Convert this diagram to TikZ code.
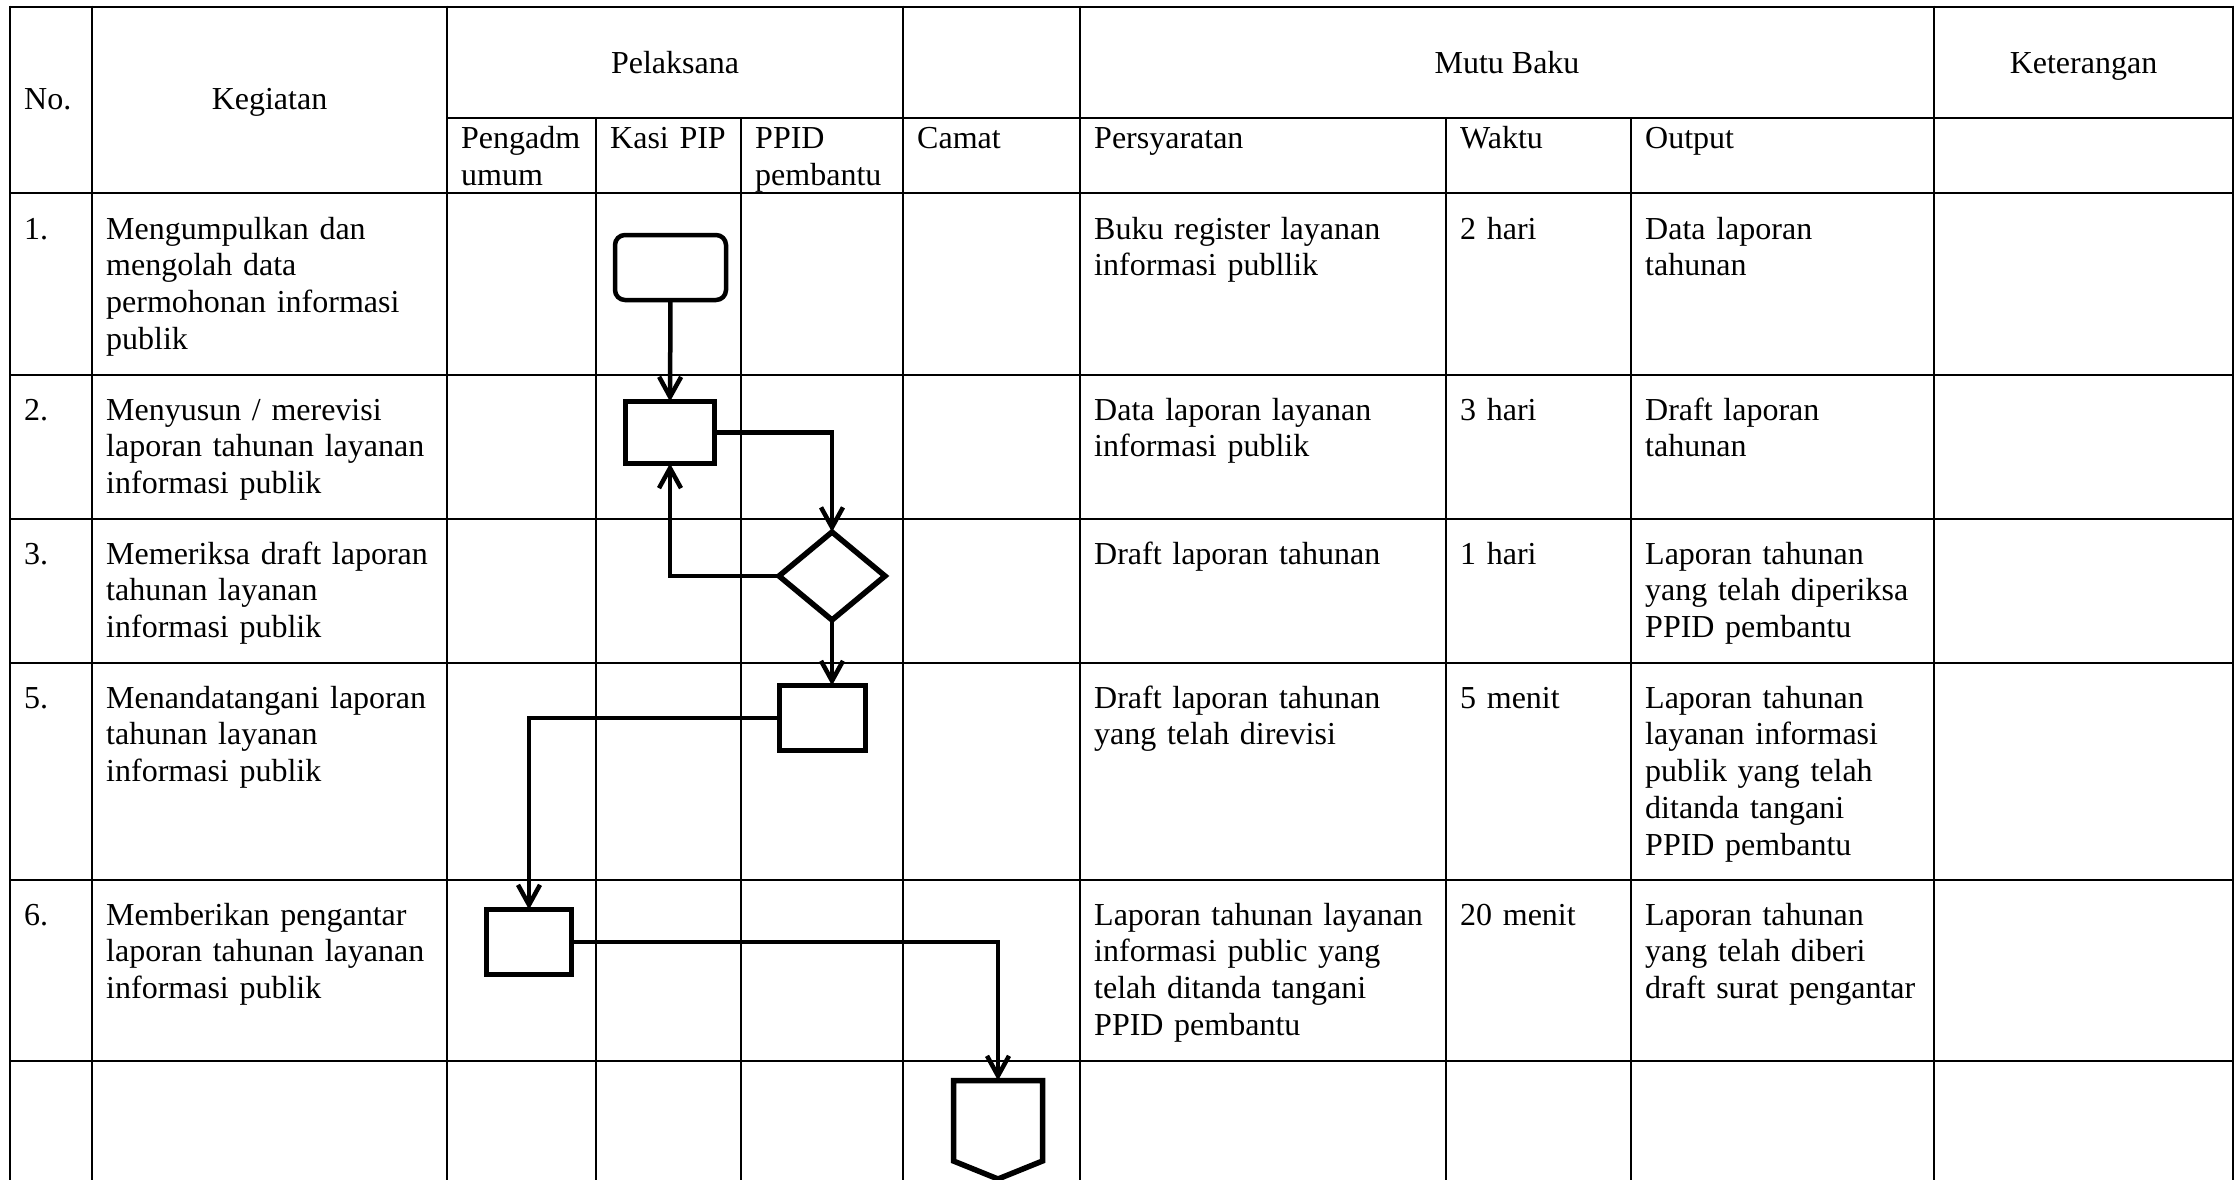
\documentclass[tikz,border=0pt]{standalone}
\usepackage{fontspec}
\setmainfont{Liberation Serif}
\usetikzlibrary{arrows.meta,shapes.geometric}
\newcommand\cellfont{\fontsize{32}{36.8}\selectfont}
\begin{document}
\begin{tikzpicture}[x=1pt,y=-1pt,
  rule/.style={line width=2.5pt},
  cell/.style={anchor=base west, inner sep=0pt, text width=420pt, align=left, font=\cellfont},
  head/.style={anchor=base, inner sep=0pt, font=\cellfont},
  proc/.style={draw, rectangle, line width=5.5pt, fill=white, inner sep=0pt, outer sep=0pt},
  flow/.style={line width=4.5pt, -{Straight Barb[length=20pt,width=22pt]}}]
\useasboundingbox (0,0) rectangle (2238,1180);
\clip (0,0) rectangle (2238,1180);
\fill[white] (0,0) rectangle (2238,1180);

% table rules
\draw[rule] (10,7) -- (2233,7);
\draw[rule] (447,118) -- (2233,118);
\foreach \y in {193,375,519,663,880,1061}
  \draw[rule] (10,\y) -- (2233,\y);
\foreach \x in {10,92,447,903,1080,1934,2233}
  \draw[rule] (\x,5.75) -- (\x,1200);
\foreach \x in {596,741,1446,1631}
  \draw[rule] (\x,118) -- (\x,1200);

% header
\node[cell] (hno) at (24,110) {No.};
\node[head] (hkeg) at (269.5,110) {Kegiatan};
\node[head] (hpel) at (675,74) {Pelaksana};
\node[head] (hmutu) at (1507,74) {Mutu Baku};
\node[head] (hket) at (2083.5,74) {Keterangan};
\node[cell] (hpu) at (461,148.5) {Pengadm\\umum};
\node[cell] (hkasi) at (610,148.5) {Kasi PIP};
\node[cell] (hppid) at (755,148.5) {PPID\\pembantu};
\node[cell] (hcamat) at (917,148.5) {Camat};
\node[cell] (hsyar) at (1094,148.5) {Persyaratan};
\node[cell] (hwaktu) at (1460,148.5) {Waktu};
\node[cell] (hout) at (1645,148.5) {Output};

% row 1
\node[cell] (n1) at (24,239) {1.};
\node[cell] (k1) at (106,239) {Mengumpulkan dan\\mengolah data\\permohonan informasi\\publik};
\node[cell] (p1) at (1094,239) {Buku register layanan\\informasi publlik};
\node[cell] (w1) at (1460,239) {2 hari};
\node[cell] (o1) at (1645,239) {Data laporan\\tahunan};

% row 2
\node[cell] (n2) at (24,420) {2.};
\node[cell] (k2) at (106,420) {Menyusun / merevisi\\laporan tahunan layanan\\informasi publik};
\node[cell] (p2) at (1094,420) {Data laporan layanan\\informasi publik};
\node[cell] (w2) at (1460,420) {3 hari};
\node[cell] (o2) at (1645,420) {Draft laporan\\tahunan};

% row 3
\node[cell] (n3) at (24,564) {3.};
\node[cell] (k3) at (106,564) {Memeriksa draft laporan\\tahunan layanan\\informasi publik};
\node[cell] (p3) at (1094,564) {Draft laporan tahunan};
\node[cell] (w3) at (1460,564) {1 hari};
\node[cell] (o3) at (1645,564) {Laporan tahunan\\yang telah diperiksa\\PPID pembantu};

% row 4
\node[cell] (n4) at (24,708) {5.};
\node[cell] (k4) at (106,708) {Menandatangani laporan\\tahunan layanan\\informasi publik};
\node[cell] (p4) at (1094,708) {Draft laporan tahunan\\yang telah direvisi};
\node[cell] (w4) at (1460,708) {5 menit};
\node[cell] (o4) at (1645,708) {Laporan tahunan\\layanan informasi\\publik yang telah\\ditanda tangani\\PPID pembantu};

% row 5
\node[cell] (n5) at (24,925) {6.};
\node[cell] (k5) at (106,925) {Memberikan pengantar\\laporan tahunan layanan\\informasi publik};
\node[cell] (p5) at (1094,925) {Laporan tahunan layanan\\informasi public yang\\telah ditanda tangani\\PPID pembantu};
\node[cell] (w5) at (1460,925) {20 menit};
\node[cell] (o5) at (1645,925) {Laporan tahunan\\yang telah diberi\\draft surat pengantar};

% flow shapes
\node[proc, line width=4.5pt, rounded corners=10pt, minimum width=111pt, minimum height=65pt] (start) at (670.5,267.5) {};
\node[proc, minimum width=89pt, minimum height=62pt] (draft) at (670,432.5) {};
\node[draw, diamond, line width=5.5pt, fill=white, inner sep=0pt, outer sep=0pt, minimum width=106pt, minimum height=88pt] (check) at (832,576) {};
\node[proc, minimum width=86pt, minimum height=65pt] (sign) at (822.5,718) {};
\node[proc, minimum width=85pt, minimum height=65pt] (cover) at (529,942) {};
\coordinate (offtop) at (998,1080.5);
\draw[line width=5.5pt, fill=white] (953.5,1080.5) -- (1042.5,1080.5) -- (1042.5,1161) -- (998,1179) -- (953.5,1161) -- cycle;

% connectors
\draw[flow] (start.south) -- (draft.north);
\draw[flow] (draft.east) -| (check.north);
\draw[flow] (check.west) -| (draft.south);
\draw[flow] (check.south) -- (check.south |- sign.north);
\draw[flow] (sign.west) -| (cover.north);
\draw[flow] (cover.east) -| (offtop);
\end{tikzpicture}
\end{document}
